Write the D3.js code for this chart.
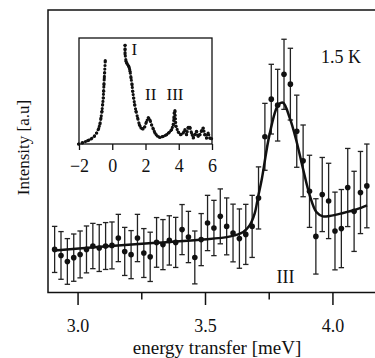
<!DOCTYPE html>
<html>
<head>
<meta charset="utf-8">
<script src="https://cdn.jsdelivr.net/npm/d3@7"></script>
<style>
  body { margin: 0; background: #fff; }
  text { font-family: "Liberation Serif", "DejaVu Serif", serif; fill: #111; }
</style>
</head>
<body>
<div id="visualization"></div>
<script>
// main spectrum at 1.5 K (energy in meV, intensity in arbitrary units)
const energy = [2.910, 2.935, 2.960, 2.985, 3.010, 3.035, 3.060, 3.085, 3.110, 3.135,
                3.160, 3.185, 3.210, 3.235, 3.260, 3.285, 3.310, 3.335, 3.360, 3.385,
                3.410, 3.435, 3.460, 3.485, 3.510, 3.535, 3.560, 3.585, 3.610, 3.635,
                3.660, 3.685, 3.710, 3.735, 3.760, 3.785, 3.810, 3.835, 3.860, 3.885,
                3.910, 3.935, 3.960, 3.985, 4.010, 4.035, 4.060, 4.085, 4.110, 4.135];
const intensity = [21.5, 18.5, 15.5, 17.4, 19.0, 21.5, 23.2, 22.2, 23.2, 23.5,
                   27.2, 20.5, 18.9, 27.2, 19.7, 17.8, 25.0, 23.9, 26.0, 25.0,
                   31.4, 27.7, 17.5, 26.4, 34.7, 32.2, 38.0, 33.0, 29.7, 26.9,
                   29.0, 33.0, 47.2, 77.7, 96.5, 93.5, 108.9, 104.0, 80.5, 65.7,
                   50.5, 28.0, 48.9, 45.7, 30.7, 31.9, 52.4, 40.5, 49.9, 53.2];
const errors = [11.5, 11.9, 11.4, 11.8, 11.7, 11.7, 11.3, 11.7, 11.7, 11.7,
                11.8, 12.0, 12.0, 11.8, 12.2, 12.3, 12.4, 12.5, 12.3, 12.5,
                12.5, 12.8, 13.2, 13.0, 13.8, 13.8, 13.7, 14.2, 14.4, 14.8,
                15.0, 15.5, 15.5, 16.7, 17.4, 17.9, 17.5, 17.9, 18.0, 17.9,
                18.0, 18.8, 18.5, 18.8, 19.4, 19.5, 19.5, 20.0, 20.5, 20.9];

// fitted curve
const fitEnergy = [2.91, 3.09, 3.28, 3.48, 3.60, 3.65, 3.675, 3.695, 3.708, 3.722, 3.754, 3.787,
                   3.806, 3.833, 3.858, 3.885, 3.911, 3.937, 3.963, 3.989, 4.042, 4.094, 4.136];
const fitIntensity = [21.0, 22.8, 24.6, 26.3, 28.0, 30.2, 33.5, 39.5, 47.6, 56.0, 79.3, 93.5,
                      94.7, 86.9, 76.0, 61.5, 48.5, 40.2, 38.0, 38.2, 39.7, 41.5, 43.5];

// inset: wide range spectrum
const insetEnergy = [-2.02, -1.78, -1.48, -1.28, -1.08, -0.94, -0.82, -0.74, -0.68, -0.62, -0.58, -0.54,
                     -0.52, -0.50, -0.48, -0.46, -0.42,
                     0.77, 0.77, 0.77, 0.83, 0.87, 0.93, 0.99, 1.03, 1.07, 1.13, 1.19, 1.23, 1.29,
                     1.35, 1.43, 1.53, 1.63, 1.73, 1.85, 1.95, 2.05, 2.17, 2.27, 2.37, 2.47, 2.57,
                     2.71, 2.87, 3.07, 3.27, 3.43, 3.57, 3.67, 3.71, 3.73, 3.77, 3.83, 3.97, 4.11,
                     4.27, 4.37, 4.47, 4.57, 4.67, 4.77, 4.87, 4.97, 5.07, 5.17, 5.27, 5.37, 5.47,
                     5.57, 5.67, 5.77, 5.87, 5.97];
const insetIntensity = [0, 1.3, 3.3, 5, 7.7, 11, 15.3, 20, 26, 32.7, 39.3, 46,
                        52.7, 59.3, 66, 71, 83.3,
                        98.7, 94.3, 90, 82.7, 81, 79.3, 77.7, 76, 72.7, 66, 59.3, 52.7, 46,
                        39.3, 32.7, 26, 19.3, 16, 15, 17, 22, 26.5, 24, 19, 15, 11,
                        8, 6.5, 7.7, 9.3, 11.7, 14.3, 19.3, 26, 31, 33.3, 17.7, 12, 9.3,
                        11, 14.3, 9.3, 16.7, 16.7, 11, 6, 9.3, 12.7, 7.7, 9.3, 13.3, 16,
                        9.3, 6, 11, 6, 5.3];

const majorTicks = [3.0, 3.5, 4.0];
const minorTicks = [3.25, 3.75];
const insetTicks = [-2, 0, 2, 4, 6];

const width = 375, height = 358;
const svg = d3.select("#visualization").append("svg")
    .attr("width", width).attr("height", height);

const x = d3.scaleLinear().domain([2.884, 4.167]).range([48, 375]);
const y = d3.scaleLinear().domain([0, 141]).range([292.5, 10]);

// frame
svg.append("rect")
    .attr("x", 48).attr("y", 10)
    .attr("width", 340).attr("height", 282.5)
    .attr("fill", "none").attr("stroke", "#111").attr("stroke-width", 1.5);

// x axis
const xAxis = svg.append("g")
    .attr("transform", "translate(0,292.5)")
    .call(d3.axisBottom(x).tickValues(majorTicks).tickFormat(d3.format(".1f"))
        .tickSize(12.5).tickPadding(14));
xAxis.select(".domain").remove();
xAxis.selectAll("line").attr("stroke", "#111").attr("stroke-width", 1.5);
xAxis.selectAll("text").style("font-size", "18px").attr("fill", "#111")
    .style("font-family", "'Liberation Serif', serif");

const xMinor = svg.append("g")
    .attr("transform", "translate(0,292.5)")
    .call(d3.axisBottom(x).tickValues(minorTicks).tickFormat("").tickSize(7));
xMinor.select(".domain").remove();
xMinor.selectAll("line").attr("stroke", "#111").attr("stroke-width", 1.5);

svg.append("text")
    .attr("x", 217).attr("y", 354)
    .attr("text-anchor", "middle")
    .style("font-size", "19px")
    .text("energy transfer [meV]");

svg.append("text")
    .attr("transform", "translate(29,147.5) rotate(-90)")
    .attr("text-anchor", "middle")
    .style("font-size", "17px")
    .text("Intensity [a.u]");

// error bars
const pts = energy.map((e, i) => ({ e: e, v: intensity[i], err: errors[i] }));
const bars = svg.append("g").attr("stroke", "#222").attr("stroke-width", 1.3);
pts.forEach(d => {
    const cx = x(d.e), y0 = y(d.v - d.err), y1 = y(d.v + d.err);
    bars.append("line").attr("x1", cx).attr("x2", cx).attr("y1", y0).attr("y2", y1);
    bars.append("line").attr("x1", cx - 2.7).attr("x2", cx + 2.7).attr("y1", y0).attr("y2", y0);
    bars.append("line").attr("x1", cx - 2.7).attr("x2", cx + 2.7).attr("y1", y1).attr("y2", y1);
});

// fit
const fitLine = d3.line()
    .x((d, i) => x(fitEnergy[i]))
    .y(d => y(d))
    .curve(d3.curveCatmullRom);
svg.append("path")
    .datum(fitIntensity)
    .attr("fill", "none")
    .attr("stroke", "#111")
    .attr("stroke-width", 2.5)
    .attr("d", fitLine);

// points
svg.selectAll("circle.pt")
    .data(pts)
    .enter().append("circle")
    .attr("class", "pt")
    .attr("cx", d => x(d.e))
    .attr("cy", d => y(d.v))
    .attr("r", 2.8)
    .attr("fill", "#111");

svg.append("text").attr("x", 321).attr("y", 63)
    .style("font-size", "18px").text("1.5 K");
svg.append("text").attr("x", 285.5).attr("y", 283)
    .attr("text-anchor", "middle")
    .style("font-size", "18px").text("III");

// inset
const xi = d3.scaleLinear().domain([-2, 6]).range([79, 212]);
const yi = d3.scaleLinear().domain([0, 106]).range([144, 38]);

svg.append("rect")
    .attr("x", 79).attr("y", 38)
    .attr("width", 133).attr("height", 106)
    .attr("fill", "#fff").attr("stroke", "#111").attr("stroke-width", 1.3);

const iAxis = svg.append("g")
    .attr("transform", "translate(0,144)")
    .call(d3.axisBottom(xi).tickValues(insetTicks).tickSize(6).tickPadding(9));
iAxis.select(".domain").remove();
iAxis.selectAll("line").attr("stroke", "#111").attr("stroke-width", 1.3);
iAxis.selectAll("text").style("font-size", "18px").attr("fill", "#111")
    .style("font-family", "'Liberation Serif', serif");

const insetPts = insetEnergy.map((e, i) => ({ e: e, v: insetIntensity[i] }));
// split where there is a gap in energy
const segments = [[]];
insetPts.forEach((d, i) => {
    if (i > 0 && d.e - insetPts[i - 1].e > 0.5) segments.push([]);
    segments[segments.length - 1].push(d);
});
const insetLine = d3.line().x(d => xi(d.e)).y(d => yi(d.v));
segments.forEach(seg => {
    svg.append("path")
        .datum(seg)
        .attr("fill", "none")
        .attr("stroke", "#111")
        .attr("stroke-width", 3.2)
        .attr("stroke-linecap", "round")
        .attr("stroke-dasharray", "0,3.6")
        .attr("d", insetLine);
});
svg.selectAll("circle.ins")
    .data(insetPts)
    .enter().append("circle")
    .attr("class", "ins")
    .attr("cx", d => xi(d.e))
    .attr("cy", d => yi(d.v))
    .attr("r", 1.6)
    .attr("fill", "#111");

svg.append("text").attr("x", 131.5).attr("y", 55)
    .style("font-size", "17px").text("I");
svg.append("text").attr("x", 145).attr("y", 100)
    .style("font-size", "17px").text("II");
svg.append("text").attr("x", 166.5).attr("y", 100)
    .style("font-size", "17px").text("III");
</script>
</body>
</html>
